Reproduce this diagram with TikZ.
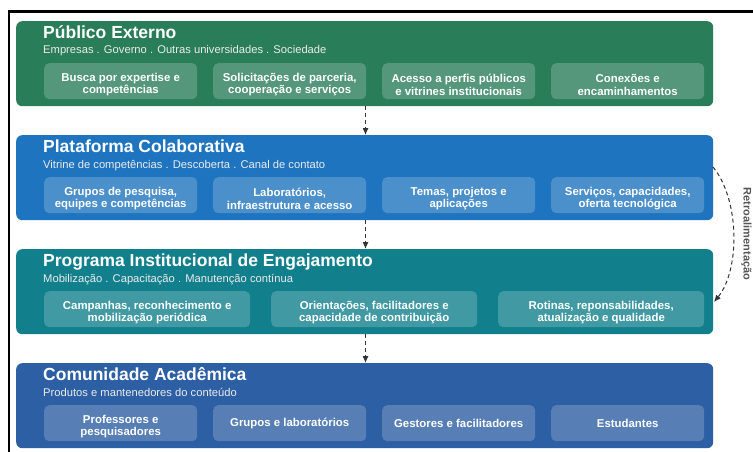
\documentclass[tikz,border=0pt]{standalone}
\usepackage{fontspec}
\setmainfont{Liberation Sans}
\usetikzlibrary{arrows.meta}
\definecolor{cgreen}{HTML}{2A7D59}
\definecolor{cblue}{HTML}{1E74BF}
\definecolor{cteal}{HTML}{11808C}
\definecolor{cdark}{HTML}{2D5FA4}
\definecolor{carrow}{HTML}{333333}
\definecolor{clabel}{HTML}{555555}
\tikzset{
  band/.style={draw=none, rounded corners=6pt, anchor=north west, minimum width=697pt, minimum height=85pt, inner sep=0pt},
  itembg/.style={fill=white, fill opacity=0.2, rounded corners=5pt, minimum height=36pt, inner sep=0pt, anchor=north west},
  itemtxt/.style={text=white, inner sep=0pt, align=center, font=\fontsize{11.4}{12.6}\selectfont\bfseries},
  twol/.style={yshift=-3.5pt},
  onel/.style={yshift=-0.5pt},
  ttl/.style={anchor=base west, text=white, font=\fontsize{17.5}{20}\selectfont\bfseries, inner sep=0pt},
  sub/.style={anchor=base west, text=white!92!black, font=\fontsize{11.2}{13}\selectfont, inner sep=0pt},
  flow/.style={draw=carrow, line width=1pt, dash pattern=on 4pt off 3pt, -{Latex[length=7pt,width=6pt]}},
}
\newcommand\ibox[6]{%
  \node[itembg, minimum width=#4] (#1) at (#2,#3) {};
  \node[itemtxt, #5] (#1t) at (#1.center) {#6};}
\begin{document}
\begin{tikzpicture}[x=1pt,y=-1pt]
\useasboundingbox (0,0) rectangle (753,452);
% frame lines
\coordinate (f0) at (8,11.5);
\coordinate (f1) at (753,11.5);
\coordinate (f2) at (9,11.5);
\coordinate (f3) at (9,452);
\draw[line width=2.5pt] (f0) -- (f1);
\draw[line width=1.5pt] (f2) -- (f3);

% bands
\node[band, fill=cgreen] (b1) at (16,21) {};
\node[band, fill=cblue] (b2) at (16,135) {};
\node[band, fill=cteal] (b3) at (16,249) {};
\node[band, fill=cdark] (b4) at (16,363) {};

% titles
\node[ttl] (t1) at (43,38.5) {Público Externo};
\node[sub] (s1) at (43,54) {Empresas . Governo . Outras universidades . Sociedade};
\node[ttl] (t2) at (43,152.5) {Plataforma Colaborativa};
\node[sub] (s2) at (43,168) {Vitrine de competências . Descoberta . Canal de contato};
\node[ttl] (t3) at (43,266.5) {Programa Institucional de Engajamento};
\node[sub] (s3) at (43,282) {Mobilização . Capacitação . Manutenção contínua};
\node[ttl] (t4) at (43,380.5) {Comunidade Acadêmica};
\node[sub] (s4) at (43,396) {Produtos e mantenedores do conteúdo};

% band 1 items
\ibox{i11}{44}{63}{153pt}{twol}{Busca por expertise e\\competências}
\ibox{i12}{213}{63}{153pt}{twol}{Solicitações de parceria,\\cooperação e serviços}
\ibox{i13}{382}{63}{153pt}{twol}{Acesso a perfis públicos\\e vitrines institucionais}
\ibox{i14}{551}{63}{153pt}{twol}{Conexões e\\encaminhamentos}

% band 2 items
\ibox{i21}{44}{177}{153pt}{twol}{Grupos de pesquisa,\\equipes e competências}
\ibox{i22}{213}{177}{153pt}{twol}{Laboratórios,\\infraestrutura e acesso}
\ibox{i23}{382}{177}{153pt}{twol}{Temas, projetos e\\aplicações}
\ibox{i24}{551}{177}{153pt}{twol}{Serviços, capacidades,\\oferta tecnológica}

% band 3 items
\ibox{i31}{44}{291}{206pt}{twol}{Campanhas, reconhecimento e\\mobilização periódica}
\ibox{i32}{271}{291}{206pt}{twol}{Orientações, facilitadores e\\capacidade de contribuição}
\ibox{i33}{498}{291}{206pt}{twol}{Rotinas, reponsabilidades,\\atualização e qualidade}

% band 4 items
\ibox{i41}{44}{405}{153pt}{twol}{Professores e\\pesquisadores}
\ibox{i42}{213}{405}{153pt}{onel}{Grupos e laboratórios}
\ibox{i43}{382}{405}{153pt}{onel}{Gestores e facilitadores}
\ibox{i44}{551}{405}{153pt}{onel}{Estudantes}

% flow arrows
\draw[flow] (b1.south west) ++(349.5,0) coordinate (a1s) -- (b2.north west -| a1s);
\draw[flow] (b2.south west) ++(349.5,0) coordinate (a2s) -- (b3.north west -| a2s);
\draw[flow] (b3.south west) ++(349.5,0) coordinate (a3s) -- (b4.north west -| a3s);

% feedback
\coordinate (fbs) at (713,167);
\coordinate (fbe) at (714,302);
\draw[flow] (fbs) .. controls (740,200) and (740,270) .. (fbe);
\node[rotate=-90, text=clabel, font=\fontsize{11}{13}\selectfont\bfseries, inner sep=0pt] (fbl) at (746.5,234) {Retroalimentação};
\end{tikzpicture}
\end{document}
